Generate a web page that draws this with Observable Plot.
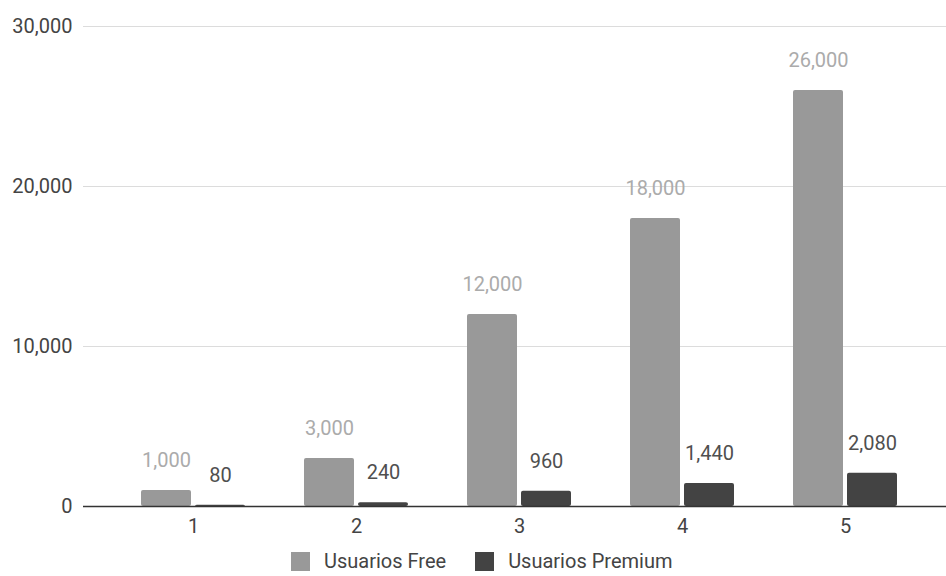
<!DOCTYPE html>
<html><head><meta charset="utf-8">
<script src="https://cdn.jsdelivr.net/npm/d3@7"></script>
<script src="https://cdn.jsdelivr.net/npm/@observablehq/plot@0.6"></script>
<style>
body{margin:0;background:#fff;font-family:Roboto,sans-serif;}
#chart{height:546px;}
#legend{display:flex;align-items:center;height:30px;padding-left:291px;font-size:20px;line-height:22px;color:#444;}
.item{display:flex;align-items:center;margin-right:29px;}
.sw{width:19px;height:19px;margin-right:14px;}
</style></head><body>
<div id="chart"></div><div id="legend"></div>
<script>
const groups = [1, 2, 3, 4, 5];
const series = ["Usuarios Free", "Usuarios Premium"];
const freeValues = [1000, 3000, 12000, 18000, 26000];
const premiumValues = [80, 240, 960, 1440, 2080];
const yTicks = [0, 10000, 20000, 30000];
const colors = ["#999999", "#434343"];
const labelColors = ["#ababab", "#4f4f4f"];

const freeData = groups.map((g, i) => ({group: g, series: series[0], value: freeValues[i]}));
const premiumData = groups.map((g, i) => ({group: g, series: series[1], value: premiumValues[i]}));
const fmt = d3.format(",");

const plot = Plot.plot({
  width: 946, height: 546,
  marginLeft: 83, marginRight: 0, marginTop: 26, marginBottom: 40,
  style: {fontFamily: "Roboto", fontSize: "20px", color: "#444", background: "#fff"},
  x: {type: "band", domain: groups, range: [111.5, 926.5], paddingInner: 0.337, paddingOuter: 0.1685, axis: null},
  y: {domain: [0, 30000], axis: null},
  color: {domain: series, range: colors},
  marks: [
    Plot.ruleY(yTicks.slice(1), {stroke: "#dcdcdc", strokeWidth: 1}),
    Plot.axisY(yTicks, {tickSize: 0, tickPadding: 11, tickFormat: fmt, label: null, fontSize: 20, fill: "#444"}),
    Plot.axisX(groups, {tickSize: 0, tickPadding: 12, label: null, fontSize: 20, fill: "#444"}),
    Plot.barY(freeData, {x: "group", y: "value", fill: "series", insetLeft: 2, insetRight: 56, rx: 2}),
    Plot.barY(premiumData, {x: "group", y: "value", fill: "series", insetLeft: 56, insetRight: 2, rx: 2}),
    Plot.ruleY([0], {stroke: "#333", strokeWidth: 1.5}),
    Plot.text(freeData, {x: "group", y: "value", text: d => fmt(d.value), dx: -27, dy: -30, fill: labelColors[0], fontSize: 20}),
    Plot.text(premiumData, {x: "group", y: "value", text: d => fmt(d.value), dx: 27, dy: -30, fill: labelColors[1], fontSize: 20})
  ]
});
document.getElementById("chart").appendChild(plot);

const legend = document.getElementById("legend");
series.forEach((s, i) => {
  const item = document.createElement("div");
  item.className = "item";
  const sw = document.createElement("div");
  sw.className = "sw";
  sw.style.background = colors[i];
  const t = document.createElement("span");
  t.textContent = s;
  item.appendChild(sw);
  item.appendChild(t);
  legend.appendChild(item);
});
</script>
</body></html>
